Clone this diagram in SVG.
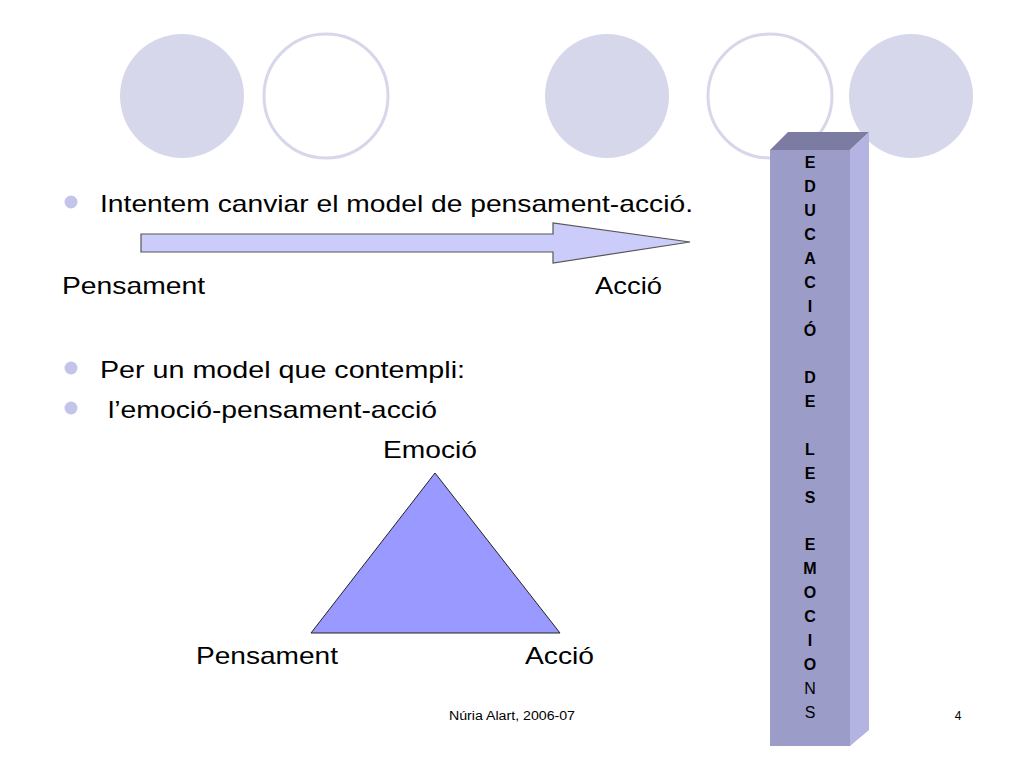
<svg xmlns="http://www.w3.org/2000/svg" width="1024" height="768" viewBox="0 0 1024 768">
<style>
.t{font-family:"Liberation Sans",Arial,sans-serif;fill:#000}
.b{font-size:24px}
.p{font-family:"Liberation Sans",Arial,sans-serif;font-size:16px;font-weight:bold;text-anchor:middle;fill:#000}
.pn{font-weight:normal}
.dot{fill:#c4c4ea}
.fc{fill:#d7d7eb}
.oc{fill:#fff;stroke:#d7d7eb;stroke-width:3}
</style>
<rect width="1024" height="768" fill="#fff"/>
<g id="deco">
<circle class="fc" cx="182" cy="96" r="62"/>
<circle class="oc" cx="326" cy="96" r="62"/>
<circle class="fc" cx="607" cy="96" r="62"/>
<circle class="oc" cx="770" cy="96" r="62"/>
<circle class="fc" cx="911" cy="96" r="62"/>
</g>
<g id="pillar">
<polygon points="770,150 788,132 869,132 850,150" fill="#7c7ca2"/>
<polygon points="850,150 869,132 869,730 850,746" fill="#b4b4e2"/>
<rect x="770" y="150" width="80" height="596" fill="#9c9cc8"/>
<g class="p">
<text x="810" y="168">E</text>
<text x="810" y="192">D</text>
<text x="810" y="216">U</text>
<text x="810" y="240">C</text>
<text x="810" y="264">A</text>
<text x="810" y="288">C</text>
<text x="810" y="312">I</text>
<text x="810" y="336">Ó</text>
<text x="810" y="383">D</text>
<text x="810" y="407">E</text>
<text x="810" y="455">L</text>
<text x="810" y="479">E</text>
<text x="810" y="503">S</text>
<text x="810" y="550">E</text>
<text x="810" y="574">M</text>
<text x="810" y="598">O</text>
<text x="810" y="622">C</text>
<text x="810" y="646">I</text>
<text x="810" y="670">O</text>
<text class="pn" x="810" y="694">N</text>
<text class="pn" x="810" y="718">S</text>
</g>
</g>
<g id="bullets">
<circle class="dot" cx="71" cy="202" r="6.5"/>
<text class="t b" x="100" y="212" textLength="593" lengthAdjust="spacingAndGlyphs">Intentem canviar el model de pensament-acció.</text>
<circle class="dot" cx="71" cy="368" r="6.5"/>
<text class="t b" x="100" y="378" textLength="365" lengthAdjust="spacingAndGlyphs">Per un model que contempli:</text>
<circle class="dot" cx="71" cy="408" r="6.5"/>
<text class="t b" x="108" y="418" textLength="329" lengthAdjust="spacingAndGlyphs">l’emoció-pensament-acció</text>
</g>
<g id="arrow">
<polygon points="141,234 553,234 553,223 690,242 553,263 553,252 141,252" fill="#ccccfa" stroke="#555" stroke-width="1.2"/>
</g>
<g id="labels1">
<text class="t b" x="62" y="294" textLength="143" lengthAdjust="spacingAndGlyphs">Pensament</text>
<text class="t b" x="595" y="294" textLength="67" lengthAdjust="spacingAndGlyphs">Acció</text>
</g>
<g id="triangle">
<polygon points="435,473 311,633 560,633" fill="#9999ff" stroke="#222" stroke-width="1"/>
<text class="t b" x="383" y="458" textLength="94" lengthAdjust="spacingAndGlyphs">Emoció</text>
<text class="t b" x="196" y="664" textLength="142" lengthAdjust="spacingAndGlyphs">Pensament</text>
<text class="t b" x="525" y="664" textLength="69" lengthAdjust="spacingAndGlyphs">Acció</text>
</g>
<g id="footer">
<text class="t" x="449" y="720" font-size="12" textLength="126" lengthAdjust="spacingAndGlyphs">Núria Alart, 2006-07</text>
<text class="t" x="958" y="720" font-size="12" text-anchor="middle">4</text>
</g>
</svg>
